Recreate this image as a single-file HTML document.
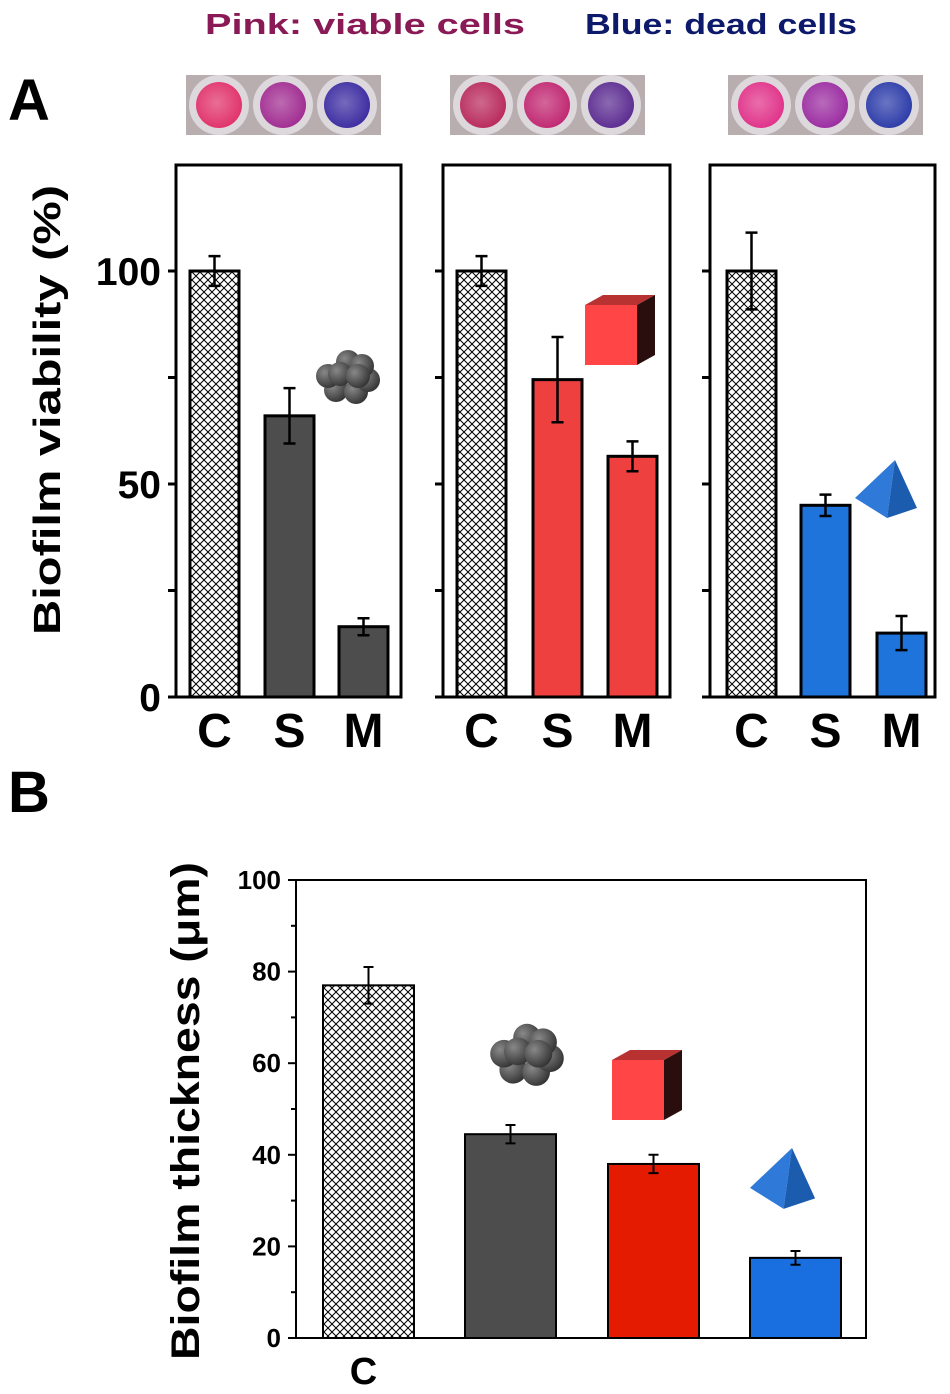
<!DOCTYPE html>
<html><head><meta charset="utf-8"><style>
html,body{margin:0;padding:0;background:#fff;}
svg{display:block;font-family:"Liberation Sans",Arial,sans-serif;}
</style></head><body>
<svg id="fig" width="950" height="1394" viewBox="0 0 950 1394" xmlns="http://www.w3.org/2000/svg">
<defs>
<pattern id="hatch" width="8" height="8" patternUnits="userSpaceOnUse">
<rect width="8" height="8" fill="#fff"/>
<path d="M0,0 L8,8 M8,0 L0,8" stroke="#000" stroke-width="1"/>
</pattern>
<radialGradient id="ball" cx="0.35" cy="0.35" r="0.7"><stop offset="0" stop-color="#888"/><stop offset="1" stop-color="#333"/></radialGradient>
<radialGradient id="well" cx="0.45" cy="0.45" r="0.6"><stop offset="0" stop-color="#fff" stop-opacity="0.3"/><stop offset="1" stop-color="#fff" stop-opacity="0"/></radialGradient>
</defs>
<text x="205" y="34" font-size="29" font-weight="bold" fill="#8a1a55" textLength="320" lengthAdjust="spacingAndGlyphs">Pink: viable cells</text>
<text x="585" y="34" font-size="29" font-weight="bold" fill="#0d1a6b" textLength="272" lengthAdjust="spacingAndGlyphs">Blue: dead cells</text>
<text x="8" y="120" font-size="58" font-weight="bold">A</text>
<text x="8" y="812" font-size="58" font-weight="bold">B</text>
<text transform="translate(60,410) rotate(-90)" text-anchor="middle" font-size="38" font-weight="bold" textLength="450" lengthAdjust="spacingAndGlyphs">Biofilm viability (%)</text>
<text transform="translate(199,1111) rotate(-90)" text-anchor="middle" font-size="40" font-weight="bold" textLength="498" lengthAdjust="spacingAndGlyphs">Biofilm thickness (μm)</text>
<g id="layer"></g>
</svg>
<script>
// Panel A data
const catsA = ["C","S","M"];
const viab1 = [100, 66, 16.5];
const err1 = [3.5, 6.5, 2];
const viab2 = [100, 74.5, 56.5];
const err2 = [3.5, 10, 3.5];
const viab3 = [100, 45, 15];
const err3 = [9, 2.5, 4];
const ticksA = [0, 50, 100];
// Panel B data
const catsB = ["C","","",""];
const thick = [77, 44.5, 38, 17.5];
const errB = [4, 2, 2, 1.5];
const ticksB = [0, 20, 40, 60, 80, 100];

const NS = "http://www.w3.org/2000/svg";
const L = document.getElementById('layer');
function mk(tag, at, parent){const e=document.createElementNS(NS,tag);for(const k in at)e.setAttribute(k,at[k]);(parent||L).appendChild(e);return e;}

// Panel A
const yA = v => 697 - v*4.26;
const panels = [
 {l:176,r:401,bx:[190,265,339],vals:viab1,errs:err1,fill:"#4d4d4d",labels:true,name:"spheres"},
 {l:443,r:670,bx:[457,533,608],vals:viab2,errs:err2,fill:"#ef4040",labels:false,name:"cubes"},
 {l:710,r:935,bx:[727,801,877],vals:viab3,errs:err3,fill:"#1f74dc",labels:false,name:"pyramids"}
];
const bwA = 49;
panels.forEach((p,pi)=>{
  const fr = mk('rect',{x:p.l,y:165,width:p.r-p.l,height:697-165,fill:"none",stroke:"#000","stroke-width":3});
  
  
  [0,25,50,75,100].forEach(t=>{
    const tk = mk('line',{x1:p.l-8,x2:p.l,y1:yA(t),y2:yA(t),stroke:"#000","stroke-width":3});
    
    
  });
  if(p.labels){
    ticksA.forEach(t=>{
      const tl = mk('text',{x:161,y:yA(t)+14,"text-anchor":"end","font-size":39,"font-weight":"bold"});
      tl.textContent=t;
      
      
    });
  }
  p.vals.forEach((v,i)=>{
    const x = p.bx[i];
    const b = mk('rect',{x:x,y:yA(v),width:bwA,height:697-yA(v),fill:i===0?"url(#hatch)":p.fill,stroke:"#000","stroke-width":3});
    
    
    const cx = x+bwA/2, e=p.errs[i];
    const eb = mk('path',{d:`M${cx},${yA(v+e)}V${yA(v-e)}M${cx-6},${yA(v+e)}H${cx+6}M${cx-6},${yA(v-e)}H${cx+6}`,stroke:"#000","stroke-width":2.5,fill:"none"});
    
    
    const xl = mk('text',{x:cx,y:747,"text-anchor":"middle","font-size":48,"font-weight":"bold"});
    xl.textContent=catsA[i];
    
    
  });
});

// well photos
const wells = [[186,["#e0306a","#a02a90","#3a2aa0"]],[450,["#b8285a","#c02570","#5a2a90"]],[728,["#e03088","#9a2aa0","#2a3aa8"]]];
wells.forEach((w,wi)=>{
  const g = mk('g',{});
  
  
  mk('rect',{x:w[0],y:75,width:195,height:60,fill:"#b8aeb0"},g);
  w[1].forEach((c,ci)=>{
    const cx = w[0]+33+ci*64;
    mk('circle',{cx:cx,cy:105,r:30,fill:"#ddd8dc"},g);
    mk('circle',{cx:cx,cy:105,r:23,fill:c},g);
    mk('circle',{cx:cx,cy:105,r:23,fill:"url(#well)"},g);
  });
});

// icons
function spheres(cx,cy,s,name){
  const g=mk('g',{});
  [[-12,12],[8,14],[20,2],[-20,-2],[0,-16],[14,-12],[-8,-4],[10,-2]].forEach(o=>mk('circle',{cx:cx+o[0]*s,cy:cy+o[1]*s,r:12*s,fill:"url(#ball)"},g));
}
function cube(x,y,s,name){
  const g=mk('g',{});
  mk('polygon',{points:`${x},${y+10*s} ${x+18*s},${y} ${x+70*s},${y} ${x+52*s},${y+10*s}`,fill:"#b83232"},g);
  mk('polygon',{points:`${x+52*s},${y+10*s} ${x+70*s},${y} ${x+70*s},${y+60*s} ${x+52*s},${y+70*s}`,fill:"#2a0e0e"},g);
  mk('rect',{x:x,y:y+10*s,width:52*s,height:60*s,fill:"#ff4545"},g);
}
function pyramid(x,y,s,name){
  const g=mk('g',{});
  mk('polygon',{points:`${x},${y+38*s} ${x+40*s},${y} ${x+32*s},${y+58*s}`,fill:"#2f7ad8"},g);
  mk('polygon',{points:`${x+40*s},${y} ${x+62*s},${y+48*s} ${x+32*s},${y+58*s}`,fill:"#1c5cae"},g);
}
spheres(348,378,1,'sphere-icon-a');
cube(585,295,1,'cube-icon-a');
pyramid(855,460,1,'pyramid-icon-a');
spheres(527,1056,1.15,'sphere-icon-b');
cube(612,1050,1,'cube-icon-b');
pyramid(750,1148,1.05,'pyramid-icon-b');

// Panel B
const yB = v => 1338 - v*4.58;
const frB = mk('rect',{x:296,y:880,width:570,height:458,fill:"none",stroke:"#000","stroke-width":2});


for(let t=0;t<=100;t+=10){
  const tk=mk('line',{x1:t%20===0?288:291,x2:296,y1:yB(t),y2:yB(t),stroke:"#000","stroke-width":2});
  
  
}
ticksB.forEach(t=>{
  const tl=mk('text',{x:281,y:yB(t)+9,"text-anchor":"end","font-size":26,"font-weight":"bold"});
  tl.textContent=t;
  
  
});
const bxB=[323,465,608,750], fillsB=["url(#hatch)","#4d4d4d","#e41b00","#1a6fe0"], namesB=["control","spheres","cubes","pyramids"];
thick.forEach((v,i)=>{
  const x=bxB[i], w=91;
  const b=mk('rect',{x:x,y:yB(v),width:w,height:1338-yB(v),fill:fillsB[i],stroke:"#000","stroke-width":2});
  
  
  const cx=x+w/2, e=errB[i];
  const eb=mk('path',{d:`M${cx},${yB(v+e)}V${yB(v-e)}M${cx-5},${yB(v+e)}H${cx+5}M${cx-5},${yB(v-e)}H${cx+5}`,stroke:"#000","stroke-width":2,fill:"none"});
  
  
  if(catsB[i]){
    const xl=mk('text',{x:cx-5,y:1384,"text-anchor":"middle","font-size":38,"font-weight":"bold"});
    xl.textContent=catsB[i];
    
    
  }
});
</script>
</body></html>
